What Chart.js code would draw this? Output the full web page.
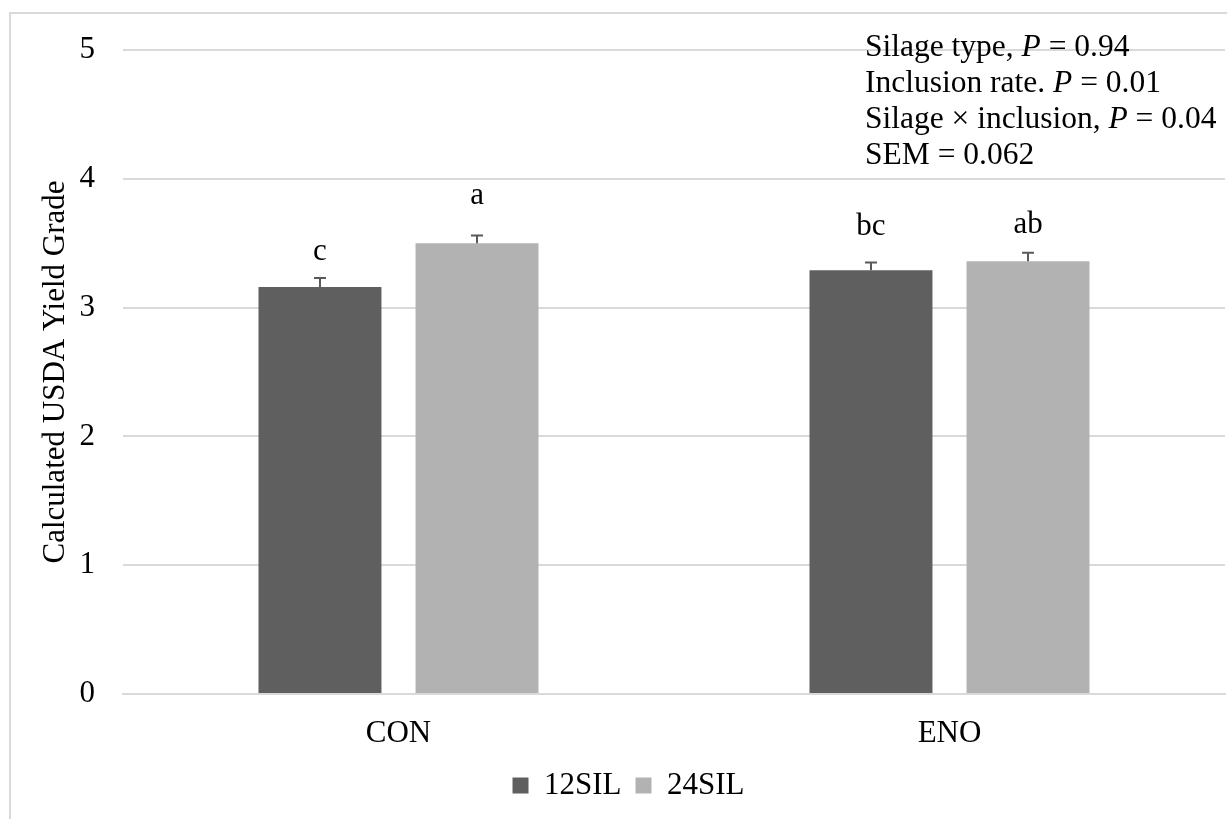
<!DOCTYPE html>
<html lang="en">
<head>
    <meta charset="UTF-8">
    <title>Calculated USDA Yield Grade</title>
    <script src="https://cdn.jsdelivr.net/npm/chart.js"></script>
    <style>
        html, body {
            margin: 0;
            padding: 0;
            background: #ffffff;
            overflow: hidden;
        }
        .frame {
            position: absolute;
            left: 9px;
            top: 12px;
            width: 1300px;
            height: 900px;
            border-left: 2px solid #d9d9d9;
            border-top: 2px solid #d9d9d9;
        }
        .chart-box {
            position: absolute;
            left: 0;
            top: 0;
            width: 1227px;
            height: 819px;
        }
    </style>
</head>
<body>
    <div class="frame"></div>
    <div class="chart-box">
        <canvas id="yieldChart"></canvas>
    </div>

    <script>
        // data
        const categories = ['CON', 'ENO'];
        const sil12 = [3.16, 3.29];
        const sil24 = [3.50, 3.36];
        const err12 = [0.07, 0.06];
        const err24 = [0.06, 0.065];
        const letters12 = ['c', 'bc'];
        const letters24 = ['a', 'ab'];
        const letterPos12 = [3.43, 3.63];
        const letterPos24 = [3.87, 3.64];
        const yTicks = [0, 1, 2, 3, 4, 5];

        const statLines = [
            ['Silage type, ', 'P', ' = 0.94'],
            ['Inclusion rate. ', 'P', ' = 0.01'],
            ['Silage \u00d7 inclusion, ', 'P', ' = 0.04'],
            ['SEM = 0.062', '', '']
        ];

        const FONT = '"Liberation Serif", "Times New Roman", serif';
        const DARK = '#5f5f5f';
        const LIGHT = '#b2b2b2';

        // error bars + letters above bars
        const barExtras = {
            id: 'barExtras',
            afterDatasetsDraw(chart) {
                const ctx = chart.ctx;
                const y = chart.scales.y;
                const errs = [err12, err24];
                const vals = [sil12, sil24];
                const lets = [letters12, letters24];
                const lpos = [letterPos12, letterPos24];
                ctx.save();
                chart.data.datasets.forEach((ds, di) => {
                    const meta = chart.getDatasetMeta(di);
                    meta.data.forEach((bar, i) => {
                        const top = y.getPixelForValue(vals[di][i]);
                        const cap = y.getPixelForValue(vals[di][i] + errs[di][i]);
                        ctx.strokeStyle = '#595959';
                        ctx.lineWidth = 2;
                        ctx.beginPath();
                        ctx.moveTo(bar.x, top);
                        ctx.lineTo(bar.x, cap);
                        ctx.moveTo(bar.x - 6, cap);
                        ctx.lineTo(bar.x + 6, cap);
                        ctx.stroke();

                        ctx.fillStyle = '#000';
                        ctx.font = '31px ' + FONT;
                        ctx.textAlign = 'center';
                        ctx.textBaseline = 'middle';
                        ctx.fillText(lets[di][i], bar.x, y.getPixelForValue(lpos[di][i]));
                    });
                });
                ctx.restore();
            }
        };

        // stats text in the upper right
        const statsText = {
            id: 'statsText',
            afterDraw(chart) {
                const ctx = chart.ctx;
                ctx.save();
                ctx.fillStyle = '#000';
                ctx.textBaseline = 'middle';
                ctx.textAlign = 'left';
                statLines.forEach((parts, i) => {
                    let x = 865;
                    const yy = 48 + i * 36;
                    parts.forEach((txt, j) => {
                        ctx.font = (j === 1 ? 'italic ' : '') + '31.5px ' + FONT;
                        ctx.fillText(txt, x, yy);
                        x += ctx.measureText(txt).width;
                    });
                });
                ctx.restore();
            }
        };

        const ctx = document.getElementById('yieldChart').getContext('2d');
        new Chart(ctx, {
            type: 'bar',
            data: {
                labels: categories,
                datasets: [
                    { label: '12SIL', data: sil12, backgroundColor: DARK, borderWidth: 0 },
                    { label: '24SIL', data: sil24, backgroundColor: LIGHT, borderWidth: 0 }
                ]
            },
            options: {
                responsive: true,
                maintainAspectRatio: false,
                animation: false,
                categoryPercentage: 0.57,
                barPercentage: 0.783,
                layout: { padding: { left: 32, right: 2, top: 50, bottom: 8 } },
                plugins: {
                    legend: {
                        position: 'bottom',
                        labels: {
                            color: '#000',
                            font: { family: FONT, size: 31 },
                            boxWidth: 16,
                            boxHeight: 16,
                            padding: 14
                        }
                    },
                    tooltip: { enabled: false }
                },
                scales: {
                    x: {
                        grid: { display: false },
                        border: { display: true, color: '#d9d9d9', width: 2 },
                        ticks: {
                            color: '#000',
                            font: { family: FONT, size: 31 },
                            padding: 13
                        },
                        afterFit(scale) { scale.height = 62; }
                    },
                    y: {
                        min: 0,
                        max: 5,
                        afterBuildTicks(scale) {
                            scale.ticks = yTicks.map(v => ({ value: v }));
                        },
                        grid: { color: '#d9d9d9', lineWidth: 2, drawTicks: false },
                        border: { display: false },
                        ticks: {
                            color: '#000',
                            font: { family: FONT, size: 31 },
                            padding: 28
                        },
                        title: {
                            display: true,
                            text: 'Calculated USDA Yield Grade',
                            color: '#000',
                            font: { family: FONT, size: 31 },
                            padding: { top: 5, bottom: 0 }
                        },
                        afterFit(scale) { scale.width = 91; }
                    }
                }
            },
            plugins: [barExtras, statsText]
        });
    </script>
</body>
</html>
